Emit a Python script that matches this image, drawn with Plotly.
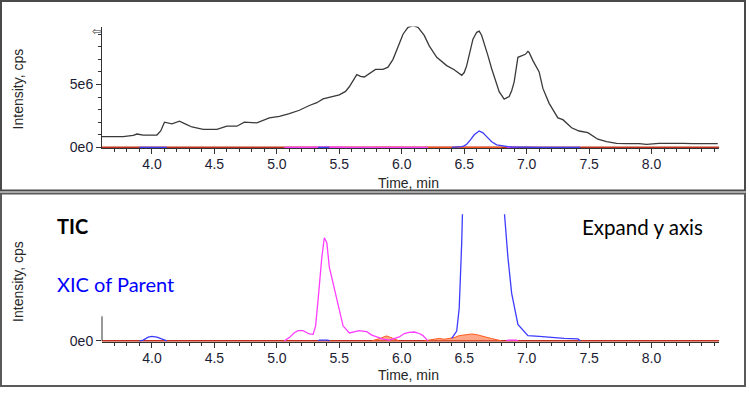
import numpy as np
import plotly.graph_objects as go

# ---------------- data ----------------
tic_time = [3.60, 3.77, 3.85, 3.88, 3.93, 4.04, 4.07, 4.10, 4.16, 4.22, 4.27, 4.32, 4.41, 4.52,
            4.60, 4.68, 4.74, 4.84, 4.94, 5.02, 5.10, 5.18, 5.26, 5.32, 5.37, 5.44, 5.50, 5.55,
            5.58, 5.64, 5.67, 5.70, 5.75, 5.79, 5.85, 5.89, 5.93, 5.96, 6.01, 6.05, 6.09, 6.13,
            6.18, 6.22, 6.28, 6.36, 6.42, 6.48, 6.50, 6.52, 6.55, 6.57, 6.60, 6.62, 6.64, 6.66,
            6.69, 6.72, 6.75, 6.78, 6.82, 6.86, 6.88, 6.90, 6.93, 6.96, 6.99, 7.01, 7.02, 7.05,
            7.10, 7.13, 7.18, 7.25, 7.29, 7.36, 7.42, 7.49, 7.57, 7.64, 7.72, 7.80, 7.90, 7.96,
            8.00, 8.06, 8.15, 8.21, 8.25, 8.33, 8.53]
tic_int = [0.86e6, 0.86e6, 0.95e6, 1.06e6, 0.98e6, 0.98e6, 1.30e6, 2.00e6, 1.87e6, 2.08e6, 1.85e6,
           1.62e6, 1.43e6, 1.43e6, 1.69e6, 1.68e6, 2.00e6, 1.95e6, 2.34e6, 2.47e6, 2.68e6, 2.95e6,
           3.33e6, 3.55e6, 3.85e6, 4.00e6, 4.17e6, 4.45e6, 4.82e6, 5.78e6, 5.65e6, 5.60e6, 5.95e6,
           6.20e6, 6.20e6, 6.38e6, 7.00e6, 7.81e6, 9.00e6, 9.55e6, 9.69e6, 9.55e6, 8.90e6, 8.07e6,
           7.16e6, 6.50e6, 6.17e6, 5.73e6, 5.95e6, 6.50e6, 7.80e6, 8.60e6, 9.15e6, 9.24e6, 8.90e6,
           8.33e6, 7.30e6, 6.25e6, 5.30e6, 4.43e6, 3.83e6, 4.04e6, 4.50e6, 5.21e6, 7.16e6, 7.29e6,
           7.40e6, 7.63e6, 7.55e6, 6.90e6, 6.00e6, 4.69e6, 3.50e6, 2.34e6, 2.20e6, 1.56e6, 1.30e6,
           1.17e6, 0.65e6, 0.45e6, 0.31e6, 0.29e6, 0.29e6, 0.23e6, 0.28e6, 0.31e6, 0.31e6, 0.34e6,
           0.31e6, 0.29e6, 0.29e6]

xic_parent_time = [3.90, 3.93, 3.97, 4.00, 4.04, 4.08, 4.12, None,
                   5.33, 5.34, 5.41, 5.42, None,
                   6.40, 6.44, 6.46, 6.48, 6.50, 6.52, 6.55, 6.58, 6.62, 6.65, 6.68, 6.72, 6.76,
                   6.80, 6.82, 6.85, 6.88, 6.93, 7.01, 7.10, 7.20, 7.30, 7.41, 7.43]
xic_parent_int = [0, 500, 2300, 2800, 2300, 1000, 0, None,
                  0, 400, 400, 0, None,
                  1500, 6000, 20000, 60000, 120000, 250000, 600000, 1000000, 1300000, 1150000,
                  850000, 450000, 200000, 110000, 80000, 51000, 29000, 10000, 3200, 2800, 2000,
                  1500, 1200, 0]

xic_magenta_time = [5.06, 5.10, 5.14, 5.17, 5.21, 5.26, 5.29, 5.31, 5.33, 5.36, 5.38, 5.40, 5.42,
                    5.45, 5.48, 5.53, 5.58, 5.62, 5.66, 5.70, 5.72, 5.76, 5.80, 5.85, 5.90, 5.95,
                    5.98, 6.02, 6.06, 6.10, 6.14, 6.17, 6.21, None, 6.84, 6.85, 6.92, 6.93]
xic_magenta_int = [0, 2000, 5000, 6200, 6200, 4200, 4000, 9000, 25000, 51000, 63000, 60000, 45000,
                   35000, 25000, 9200, 4800, 5500, 6200, 5800, 5600, 3500, 2200, 1000, 500, 1500,
                   2400, 4500, 5200, 5400, 4500, 3200, 0, None, 0, 400, 400, 0]

xic_orange_time = [5.76, 5.80, 5.84, 5.86, 5.88, 5.90, 5.93, 5.96, 5.98, None,
                   6.18, 6.22, 6.26, 6.30, 6.34, 6.38, 6.42, 6.46, 6.50, 6.53, 6.56, 6.60,
                   6.64, 6.68, 6.72, 6.76, 6.80]
xic_orange_int = [0, 800, 1800, 2600, 3000, 2400, 1500, 600, 0, None,
                  0, 600, 1200, 1500, 1000, 1500, 2000, 3200, 3500, 4000, 4200, 3800,
                  3200, 2200, 1400, 600, 0]

baseline_time = [3.60, 8.54]
baseline_int = [0, 0]

x_ticks = [4.0, 4.5, 5.0, 5.5, 6.0, 6.5, 7.0, 7.5, 8.0]
x_ticklabels = ["4.0", "4.5", "5.0", "5.5", "6.0", "6.5", "7.0", "7.5", "8.0"]
y_ticks_top = [0, 5e6]
y_ticklabels_top = ["0e0", "5e6"]

# ---------------- geometry helpers ----------------
W, H = 750, 396
def px(x):
    return x / W
def py(y):
    return 1 - y / H

TIC_COLOR = "#3a3a3a"
BLUE = "#3c3cff"
MAGENTA = "#ff3cff"
ORANGE = "#ff5a1e"
RED = "#c0301c"
AX = "#333333"
TICKFONT = dict(family="Liberation Sans, Arial, sans-serif", size=14, color="#1c1c34")

fig = go.Figure()

for xa, ya, with_tic in (("x", "y", True), ("x2", "y2", False)):
    fig.add_trace(go.Scatter(x=baseline_time, y=baseline_int, mode="lines",
                             line=dict(color=RED, width=1.6), xaxis=xa, yaxis=ya,
                             hoverinfo="skip", showlegend=False))
    if with_tic:
        fig.add_trace(go.Scatter(x=tic_time, y=tic_int, mode="lines",
                                 line=dict(color=TIC_COLOR, width=1.3), xaxis=xa, yaxis=ya,
                                 showlegend=False))
    fig.add_trace(go.Scatter(x=xic_orange_time, y=xic_orange_int, mode="lines",
                             line=dict(color=ORANGE, width=1), fill="tozeroy",
                             fillcolor="rgba(255,120,70,0.65)", connectgaps=False,
                             xaxis=xa, yaxis=ya, showlegend=False))
    fig.add_trace(go.Scatter(x=xic_magenta_time, y=xic_magenta_int, mode="lines",
                             line=dict(color=MAGENTA, width=1.3), connectgaps=False,
                             xaxis=xa, yaxis=ya, showlegend=False))
    fig.add_trace(go.Scatter(x=xic_parent_time, y=xic_parent_int, mode="lines",
                             line=dict(color=BLUE, width=1.3), connectgaps=False,
                             xaxis=xa, yaxis=ya, showlegend=False))

minor_x = [v for v in np.round(np.arange(3.7, 8.51, 0.1), 1) if v not in x_ticks]

xaxis_common = dict(
    domain=[px(102), px(719)], range=[3.6, 8.54],
    tickmode="array", tickvals=x_ticks, ticktext=x_ticklabels,
    ticks="outside", ticklen=5, tickcolor=AX, tickwidth=1, ticklabelstandoff=-2,
    minor=dict(tickmode="array", tickvals=minor_x, ticks="outside", ticklen=3,
               tickcolor=AX, tickwidth=1, showgrid=False),
    showline=True, linecolor=AX, linewidth=1, showgrid=False, zeroline=False,
    tickfont=TICKFONT, fixedrange=True,
)

fig.update_layout(
    width=W, height=H, margin=dict(l=0, r=0, t=0, b=0),
    paper_bgcolor="white", plot_bgcolor="white", showlegend=False,
    xaxis=dict(xaxis_common, anchor="y"),
    xaxis2=dict(xaxis_common, anchor="y2"),
    yaxis=dict(domain=[py(151), py(27)], range=[-0.078e6, 9.61e6],
               tickmode="array", tickvals=y_ticks_top, ticktext=y_ticklabels_top,
               ticks="outside", ticklen=5, tickcolor=AX,
               minor=dict(tickmode="array", tickvals=[1e6, 2e6, 3e6, 4e6, 6e6, 7e6, 8e6, 9e6],
                          ticks="outside", ticklen=3, tickcolor=AX, showgrid=False),
               showline=True, linecolor=AX, linewidth=1, showgrid=False, zeroline=False,
               tickfont=TICKFONT, anchor="x", fixedrange=True),
    yaxis2=dict(domain=[py(348), py(218)], range=[-600, 77400],
                tickmode="array", tickvals=[0], ticktext=["0e0"],
                ticks="outside", ticklen=5, tickcolor=AX,
                showline=False, showgrid=False, zeroline=False,
                tickfont=TICKFONT, anchor="x2", fixedrange=True),
)

shapes = [
    # panel frames
    dict(type="rect", xref="paper", yref="paper", x0=px(1), x1=px(745), y0=py(194), y1=py(1),
         line=dict(color="#4a4a4a", width=2)),
    dict(type="rect", xref="paper", yref="paper", x0=px(1), x1=px(745), y0=py(393), y1=py(197),
         line=dict(color="#5a5a5a", width=2)),
    # short y axis line of the expanded panel
    dict(type="line", xref="paper", yref="paper", x0=px(102), x1=px(102), y0=py(347), y1=py(322),
         line=dict(color=AX, width=1)),
]
fig.update_layout(shapes=shapes)

TITLEFONT = dict(family="Liberation Sans, Arial, sans-serif", size=14, color="#262626")
ann = [
    dict(text="Intensity, cps", x=px(18), y=py(91), textangle=-90, font=TITLEFONT),
    dict(text="Intensity, cps", x=px(18), y=py(287), textangle=-90, font=TITLEFONT),
    dict(text="Time, min", x=px(408), y=py(186), font=TITLEFONT),
    dict(text="Time, min", x=px(408), y=py(382), font=TITLEFONT),
    dict(text="⇦", x=px(96), y=py(32), font=dict(family="DejaVu Sans", size=11, color="#333")),
    dict(text="<b>TIC</b>", x=px(55), y=py(230), xanchor="left",
         font=dict(family="Lato, Carlito, sans-serif", size=20, color="black")),
    dict(text="XIC of Parent", x=px(55), y=py(289), xanchor="left",
         font=dict(family="Lato, Carlito, sans-serif", size=20, color="#0000ff")),
    dict(text="Expand y axis", x=px(580), y=py(231), xanchor="left",
         font=dict(family="Lato, Carlito, sans-serif", size=20.5, color="black")),
]
for a in ann:
    a.setdefault("xanchor", "center")
    a.update(xref="paper", yref="paper", yanchor="middle", showarrow=False)
fig.update_layout(annotations=ann)

fig.write_html("out.html", config={"displayModeBar": False},
               post_script="document.body.style.margin='0';document.body.style.overflow='hidden';")
